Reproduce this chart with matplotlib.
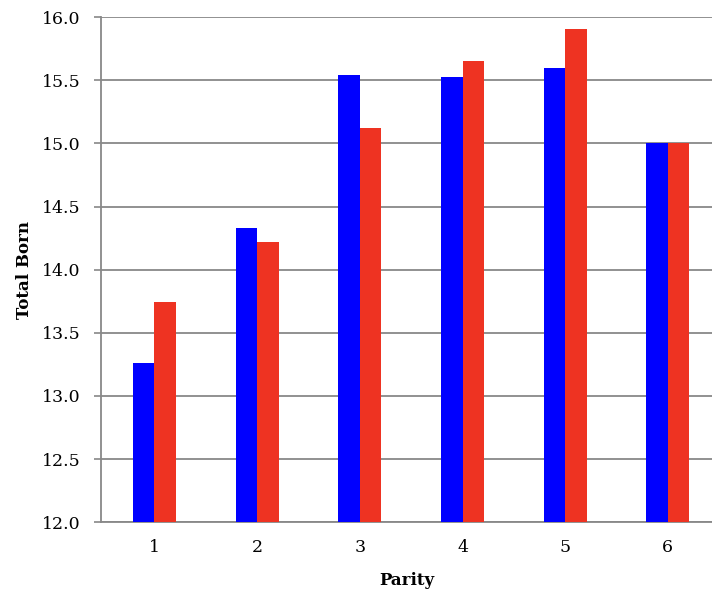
import numpy as np
import matplotlib
matplotlib.use("Agg")
import matplotlib.pyplot as plt

# data
parity = [1, 2, 3, 4, 5, 6]
blue_vals = [13.26, 14.33, 15.54, 15.53, 15.60, 15.00]
red_vals = [13.74, 14.22, 15.12, 15.65, 15.91, 15.00]
yticks = [12.0, 12.5, 13.0, 13.5, 14.0, 14.5, 15.0, 15.5, 16.0]

plt.rcParams['font.family'] = ['DejaVu Serif']

fig = plt.figure(figsize=(7.12, 5.94), dpi=100)
ax = fig.add_axes([0.142, 0.121, 0.858, 0.850])

x = np.array(parity)
w = 0.21
ax.bar(x - w / 2, np.array(blue_vals) - 12, w, bottom=12, color='#0000ff', zorder=3)
ax.bar(x + w / 2, np.array(red_vals) - 12, w, bottom=12, color='#ee3322', zorder=3)

ax.set_ylim(12, 16)
ax.set_xlim(0.48, 6.43)
ax.set_yticks(yticks)
ax.set_yticklabels(['{:.1f}'.format(v) for v in yticks], fontsize=12.5)
ax.set_xticks(parity)
ax.set_xticklabels([str(p) for p in parity], fontsize=12.5)
ax.tick_params(axis='x', length=0, pad=12)
ax.tick_params(axis='y', length=5, width=1.2, color='#888888', direction='out', pad=10)
ax.grid(axis='y', color='#888888', lw=1.3, zorder=0)

for s in ['top', 'right']:
    ax.spines[s].set_visible(False)
ax.spines['left'].set_color('#888888')
ax.spines['left'].set_linewidth(1.3)
ax.spines['bottom'].set_color('#888888')
ax.spines['bottom'].set_linewidth(1.3)

ax.set_xlabel('Parity', fontsize=12, fontweight='bold', labelpad=12)
ax.set_ylabel('Total Born', fontsize=12, fontweight='bold', labelpad=6)

fig.savefig('out.png', dpi=100)
